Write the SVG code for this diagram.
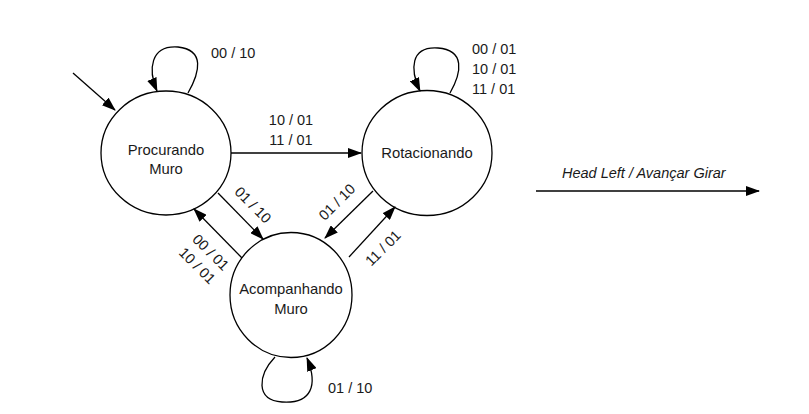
<svg xmlns="http://www.w3.org/2000/svg" width="809" height="414" viewBox="0 0 809 414">
<style>
.node{fill:#fff;stroke:#000;stroke-width:1.3}
.edge{fill:none;stroke:#000;stroke-width:1.3;marker-end:url(#ah)}
.lbl{font-family:"Liberation Sans",Arial,sans-serif;font-size:14.5px;fill:#1a1a1a}
.nl{font-family:"Liberation Sans",Arial,sans-serif;font-size:14.8px;fill:#1a1a1a;text-anchor:middle}
</style>
<defs>
<marker id="ah" markerUnits="userSpaceOnUse" markerWidth="14" markerHeight="10" refX="13" refY="5" orient="auto">
<path d="M0,0 L14,5 L0,10 Z" fill="#000"/>
</marker>
</defs>
<rect width="809" height="414" fill="#fff"/>
<g id="procurando">
<ellipse class="node" cx="166" cy="153" rx="65" ry="62"/>
<text class="nl" x="166" y="155">Procurando</text>
<text class="nl" x="166" y="174">Muro</text>
</g>
<g id="rotacionando">
<ellipse class="node" cx="427" cy="153" rx="65" ry="62.5"/>
<text class="nl" x="427" y="158">Rotacionando</text>
</g>
<g id="acompanhando">
<ellipse class="node" cx="291" cy="295" rx="61" ry="62.5"/>
<text class="nl" x="291" y="294">Acompanhando</text>
<text class="nl" x="291" y="314">Muro</text>
</g>
<g id="connectors">
<path class="edge" d="M73,73 L115,110"/>
<path class="edge" d="M188,93 C200,72 205,50 178,47 C150,45 148,70 157,91"/>
<text class="lbl" x="211" y="58">00 / 10</text>
<path class="edge" d="M231,153 L361,153"/>
<text class="lbl" x="291" y="125" text-anchor="middle">10 / 01</text>
<text class="lbl" x="291" y="145" text-anchor="middle">11 / 01</text>
<path class="edge" d="M450,93 C462,72 465,50 438,48 C410,46 410,70 420,91"/>
<text class="lbl" x="472" y="54">00 / 01</text>
<text class="lbl" x="472" y="74">10 / 01</text>
<text class="lbl" x="472" y="94">11 / 01</text>
<path class="edge" d="M218,193 L263,239"/>
<text class="lbl" text-anchor="middle" transform="translate(253,205) rotate(45)" y="5">01 / 10</text>
<path class="edge" d="M242,258 L194,209"/>
<g class="lbl" text-anchor="middle" transform="translate(204,259) rotate(45)">
<text y="-4.5">00 / 01</text>
<text y="14.5">10 / 01</text>
</g>
<path class="edge" d="M373,191 L325,238"/>
<text class="lbl" text-anchor="middle" transform="translate(337,202) rotate(-45)" y="5">01 / 10</text>
<path class="edge" d="M349,257 L395,207"/>
<text class="lbl" text-anchor="middle" transform="translate(383,248) rotate(-45)" y="5">11 / 01</text>
<path class="edge" d="M275,357 C258,375 255,400 282,402 C312,404 318,385 307,358"/>
<text class="lbl" x="328" y="393">01 / 10</text>
<path class="edge" d="M536,191 L759,191"/>
<text class="lbl" x="562" y="178" font-style="italic" font-size="15.5px">Head Left / Avançar Girar</text>
</g>
</svg>
